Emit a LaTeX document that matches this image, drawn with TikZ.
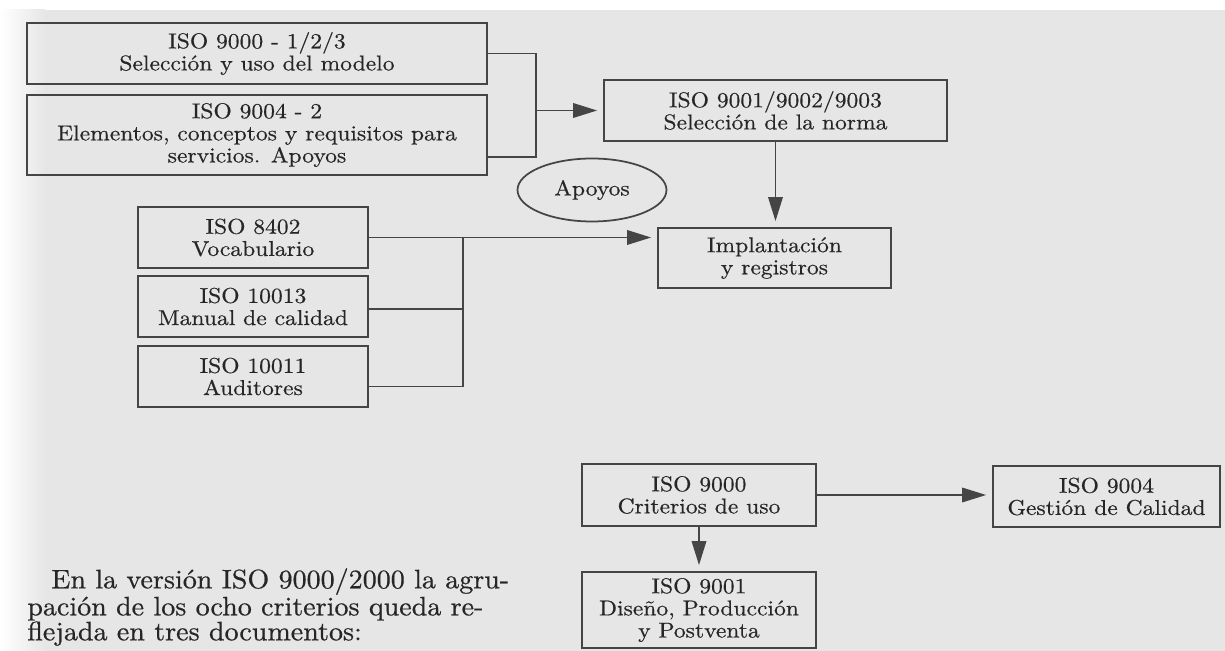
\documentclass[tikz,border=0pt]{standalone}
\usepackage{fontspec}
\usepackage{xcolor}
\usepackage{tikz}
\usetikzlibrary{shapes.geometric,arrows.meta,positioning,calc}
\newfontfamily\bookfont[FakeStretch=1.1,FakeBold=0.5]{lmroman10-regular.otf}
\newfontfamily\textofont[FakeStretch=1.05,FakeBold=0.6]{lmroman10-regular.otf}
\definecolor{scpaper}{HTML}{E6E6E6}
\definecolor{scink}{HTML}{262626}
\definecolor{scline}{HTML}{454545}
\tikzset{
  normbox/.style={rectangle,draw=scline,line width=1pt,inner sep=0pt,
                  align=center,text=scink,font=\bookfont\fontsize{12.2}{12.6}\selectfont},
  oval/.style={ellipse,draw=scline,line width=1pt,inner sep=0pt,
               minimum width=2.98cm,minimum height=1.26cm,
               text=scink,font=\bookfont\fontsize{12.2}{12.6}\selectfont},
  link/.style={line width=1pt,draw=scline},
  flow/.style={-{Triangle[length=4.8mm,width=2.9mm]},line width=1pt,draw=scline,
               shorten >=1.2mm},
}

\begin{document}
\begin{tikzpicture}[x=0.02cm,y=-0.02cm]
\useasboundingbox (0,0) rectangle (1225,651);
\fill[scpaper] (0,10) rectangle (1225,651);
\shade[left color=white,right color=scpaper] (0,10) rectangle (45,651);
% upper chain
\node[normbox,minimum width=9.2cm,minimum height=1.22cm] (modelo) at (257,53.5)
  {ISO 9000 - 1/2/3\\Selección y uso del modelo};
\node[normbox,minimum width=9.2cm,minimum height=1.6cm] (servic) at (257,135)
  {ISO 9004 - 2\\Elementos, conceptos y requisitos para\\servicios. Apoyos};
\node[normbox,minimum width=6.86cm,minimum height=1.22cm] (norma) at (775.5,110.5)
  {ISO 9001/9002/9003\\Selección de la norma};
\node[normbox,minimum width=4.66cm,minimum height=1.2cm] (implan) at (774.5,258)
  {Implantación\\y registros};
\node[oval] (apoyos) at (592,190) {Apoyos};
% supporting norms
\node[normbox,minimum width=4.6cm,minimum height=1.22cm] (vocab) at (253,237.5)
  {ISO 8402\\Vocabulario};
\node[normbox,minimum width=4.6cm,minimum height=1.22cm] (manual) at (253,306.5)
  {ISO 10013\\Manual de calidad};
\node[normbox,minimum width=4.6cm,minimum height=1.22cm] (audit) at (253,376.5)
  {ISO 10011\\Auditores};
% version 2000
\node[normbox,minimum width=4.68cm,minimum height=1.24cm] (criter) at (699,495)
  {ISO 9000\\Criterios de uso};
\node[normbox,minimum width=4.68cm,minimum height=1.52cm] (diseno) at (699,610)
  {ISO 9001\\Diseño, Producción\\y Postventa};
\node[normbox,minimum width=4.54cm,minimum height=1.22cm] (gestion) at (1106.5,496.5)
  {ISO 9004\\Gestión de Calidad};
\node[anchor=west,inner sep=0pt,align=left,text=scink,
      font=\textofont\fontsize{15.2}{14.2}\selectfont] (parra) at (27,607)
  {\hspace*{0.48cm}En la versión ISO 9000/2000 la agru-\\
   pación de los ocho criterios queda re-\\
   flejada en tres documentos:};

\coordinate (jmod) at (536,110.5);
\coordinate (jsup) at (463,237.5);
\draw[link] (modelo.east) -| (jmod);
\draw[link] ($(servic.east)+(0,22)$) -| (jmod);
\draw[flow] (jmod) -- (norma.west);
\draw[flow] (norma.south) -- (norma.south |- implan.north);
\draw[flow] (vocab.east) -- (vocab.east -| implan.west);
\draw[link] ($(manual.east)+(0,2.5)$) -| (jsup);
\draw[link] ($(audit.east)+(0,10)$) -| (jsup);
\draw[flow] (criter.east) -- (criter.east -| gestion.west);
\draw[flow] (criter.south) -- (diseno.north);
\end{tikzpicture}
\end{document}
